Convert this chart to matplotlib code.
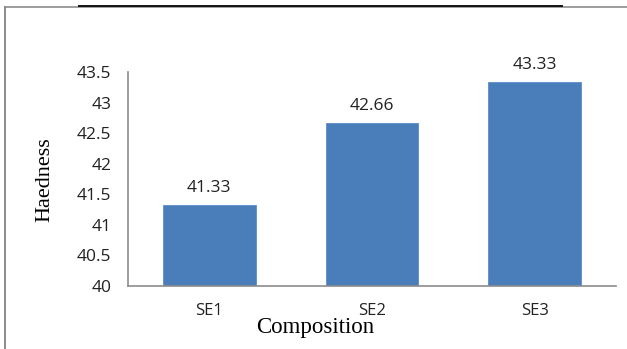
import matplotlib
matplotlib.use("Agg")
import matplotlib.pyplot as plt
from matplotlib.lines import Line2D

categories = ["SE1", "SE2", "SE3"]
hardness = [41.33, 42.66, 43.33]
yticks = [40, 40.5, 41, 41.5, 42, 42.5, 43, 43.5]
ytick_labels = ["40", "40.5", "41", "41.5", "42", "42.5", "43", "43.5"]

W, H = 627, 349
fig = plt.figure(figsize=(W / 100, H / 100), dpi=100)
ax = fig.add_axes([128 / W, 1 - 286 / H, (616 - 128) / W, (286 - 72) / H])

x = range(len(categories))
ax.bar(x, hardness, width=0.57, color="#4a7ebb", edgecolor="#5b8cc8",
       linewidth=0.6)
ax.set_ylim(40, 43.5)
ax.set_xlim(-0.5, len(categories) - 0.5)
ax.set_yticks(yticks)
ax.set_yticklabels(ytick_labels, family="Open Sans", fontsize=12.5, color="#222222")
ax.set_xticks(list(x))
ax.set_xticklabels(categories, family="Open Sans", fontsize=12, color="#222222")
ax.tick_params(axis="both", length=0)
ax.tick_params(axis="y", pad=12)
ax.tick_params(axis="x", pad=12)

for sp in ["top", "right"]:
    ax.spines[sp].set_visible(False)
for sp in ["left", "bottom"]:
    ax.spines[sp].set_color("#8c8c8c")
    ax.spines[sp].set_linewidth(1.2)

for xi, v in zip(x, hardness):
    ax.annotate(f"{v:.2f}", (xi, v), xytext=(0, 9.4), textcoords="offset points",
                ha="center", va="baseline", family="Open Sans", fontsize=12.5,
                color="#222222")

fig.text(45 / W, 1 - 180 / H, "Haedness", family="Liberation Serif",
         fontsize=16, rotation=90, ha="center", va="center")
fig.text(315 / W, 1 - 333 / H, "Composition", family="Liberation Serif",
         fontsize=16.5, ha="center", va="baseline")

# page frame lines
fig.add_artist(Line2D([5 / W, 1], [1 - 7 / H, 1 - 7 / H], color="#8c8c8c", lw=1.2))
fig.add_artist(Line2D([5 / W, 5 / W], [0, 1 - 7 / H], color="#8c8c8c", lw=1.4))
fig.add_artist(Line2D([79 / W, 562 / W], [1 - 5.5 / H, 1 - 5.5 / H], color="#111111", lw=1.4))

fig.savefig("out.png", dpi=100)
